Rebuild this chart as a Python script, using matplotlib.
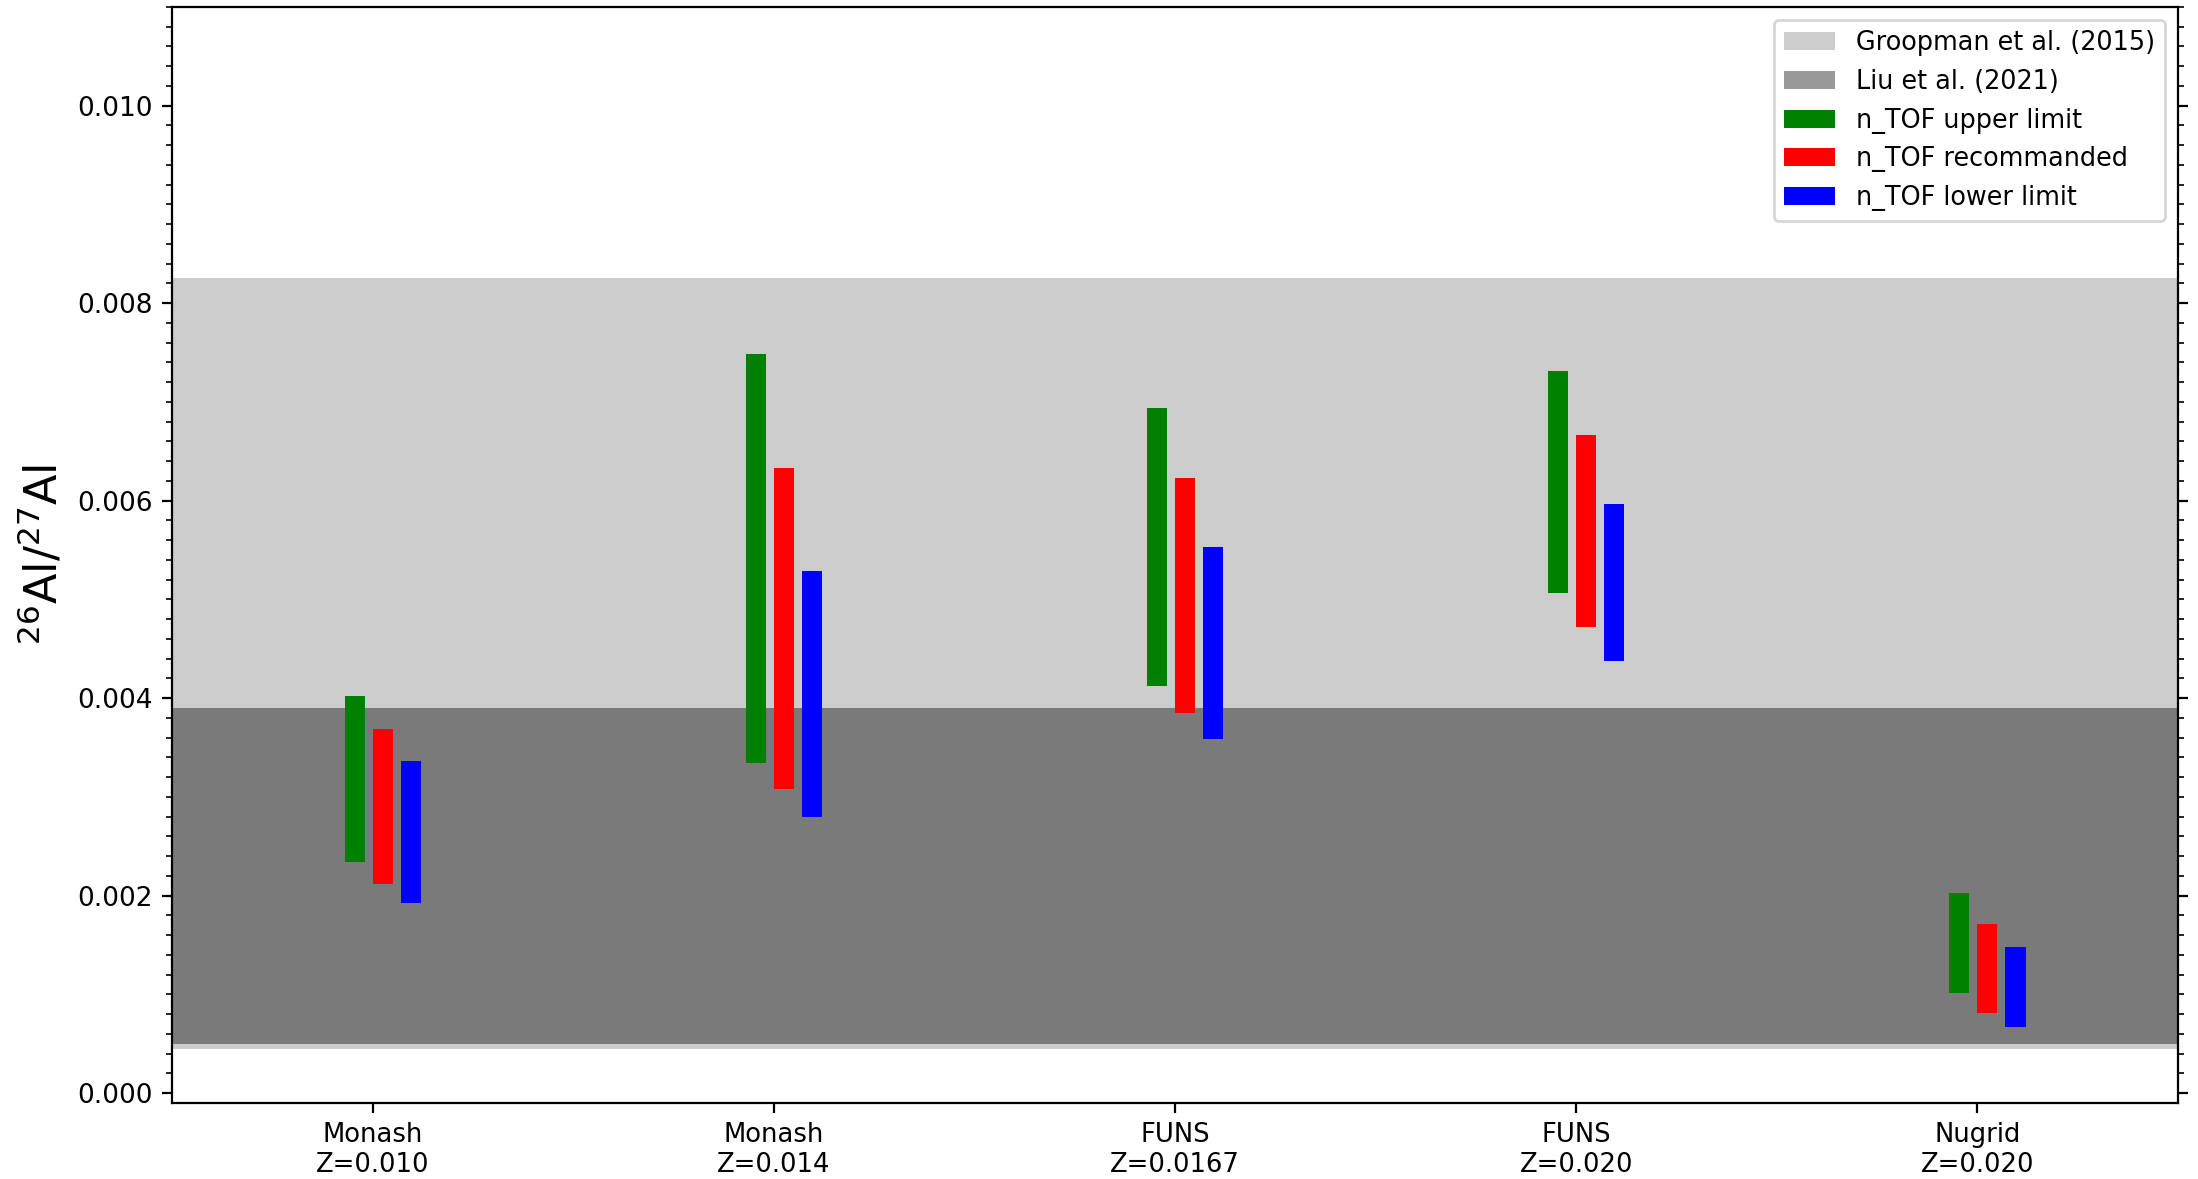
import numpy as np
import matplotlib.pyplot as plt
from matplotlib.ticker import MultipleLocator

# model sets and the 26Al/27Al ranges from each n_TOF rate
models = ['Monash\nZ=0.010', 'Monash\nZ=0.014', 'FUNS\nZ=0.0167',
          'FUNS\nZ=0.020', 'Nugrid\nZ=0.020']

upper_lo = [0.00234, 0.00334, 0.00412, 0.00506, 0.00101]
upper_hi = [0.00402, 0.00749, 0.00694, 0.00731, 0.00203]
reco_lo = [0.00212, 0.00308, 0.00385, 0.00472, 0.00081]
reco_hi = [0.00369, 0.00633, 0.00623, 0.00666, 0.00171]
lower_lo = [0.00193, 0.00280, 0.00359, 0.00438, 0.00067]
lower_hi = [0.00336, 0.00529, 0.00553, 0.00597, 0.00148]

# grain measurements
groopman = (0.00045, 0.00825)
liu = (0.0005, 0.0039)

fig = plt.figure(figsize=(10.99, 5.895), dpi=200)
ax = fig.add_axes([0.0783, 0.0645, 0.9126, 0.9296])

ax.axhspan(groopman[0], groopman[1], color='black', alpha=0.2, lw=0,
           label='Groopman et al. (2015)')
ax.axhspan(liu[0], liu[1], color='black', alpha=0.4, lw=0,
           label='Liu et al. (2021)')

x = np.arange(len(models))
w = 0.05
series = [
    (upper_lo, upper_hi, -0.07, 'green', 'n_TOF upper limit'),
    (reco_lo, reco_hi, 0.0, 'red', 'n_TOF recommanded'),
    (lower_lo, lower_hi, 0.07, 'blue', 'n_TOF lower limit'),
]
for lo, hi, off, col, lab in series:
    lo = np.array(lo)
    hi = np.array(hi)
    ax.bar(x + off, hi - lo, bottom=lo, width=w, align='edge',
           color=col, label=lab)

ax.set_xlim(-0.5, 4.5)
ax.set_ylim(-0.0001, 0.011)
ax.set_xticks(x)
ax.set_xticklabels(models, fontsize=9.3)
ax.yaxis.set_major_locator(MultipleLocator(0.002))
ax.yaxis.set_minor_locator(MultipleLocator(0.0002))
ax.tick_params(axis='y', which='both', right=True, labelsize=9.5)
ax.set_ylabel(r'$^{26}$Al/$^{27}$Al', fontsize=16)

ax.legend(loc='upper right', fontsize=9.2)

fig.savefig('out.png', dpi=200)
